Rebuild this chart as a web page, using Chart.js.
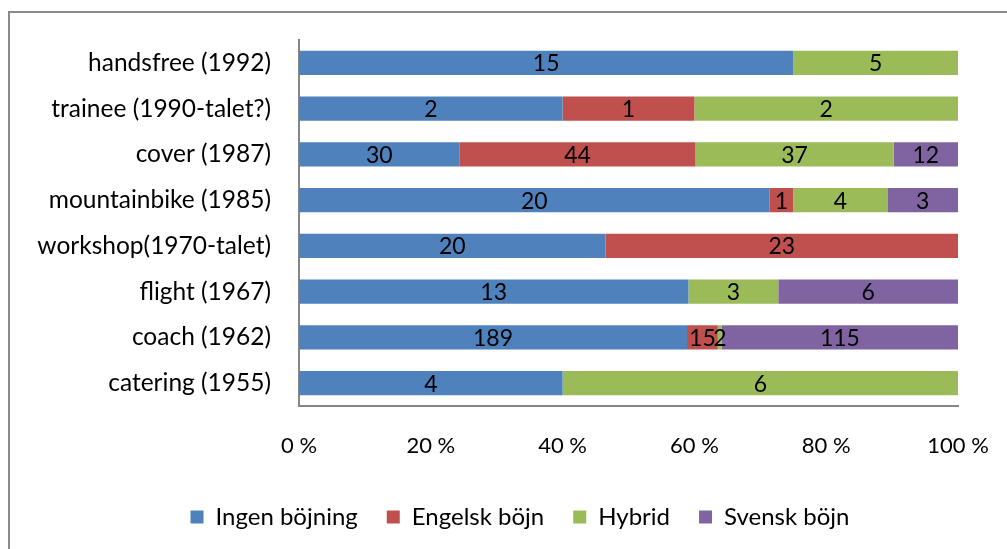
<!DOCTYPE html>
<html lang="sv">
<head>
<meta charset="UTF-8">
<title>Böjning av lånord</title>
<script src="https://cdn.jsdelivr.net/npm/chart.js@4.4.1/dist/chart.umd.min.js"></script>
<style>
  html, body { margin: 0; padding: 0; background: #fff; }
  #wrap { width: 1007px; height: 549px; position: relative; }
</style>
</head>
<body>
<div id="wrap"><canvas id="chart" width="1007" height="549"></canvas></div>
<script>
const words = ['handsfree (1992)', 'trainee (1990-talet?)', 'cover (1987)', 'mountainbike (1985)',
               'workshop(1970-talet)', 'flight (1967)', 'coach (1962)', 'catering (1955)'];
const ingen   = [15, 2, 30, 20, 20, 13, 189, 4];
const engelsk = [0, 1, 44, 1, 23, 0, 15, 0];
const hybrid  = [5, 2, 37, 4, 0, 3, 2, 6];
const svensk  = [0, 0, 12, 3, 0, 6, 115, 0];
const seriesNames = ['Ingen böjning', 'Engelsk böjn', 'Hybrid', 'Svensk böjn'];
const xTicks = [0, 20, 40, 60, 80, 100];

const counts = [ingen, engelsk, hybrid, svensk];
const colors = ['#4F81BD', '#C0504D', '#9BBB59', '#8064A2'];
const totals = words.map((w, i) => counts.reduce((s, arr) => s + arr[i], 0));
const FONT = 'Lato, "Open Sans", sans-serif';

const datasets = counts.map((arr, k) => ({
  label: seriesNames[k],
  data: arr.map((v, i) => v / totals[i] * 100),
  raw: arr,
  backgroundColor: colors[k],
  borderWidth: 0,
  categoryPercentage: 1,
  barPercentage: 0.53
}));

// draws the raw counts in the middle of each segment
const countLabels = {
  id: 'countLabels',
  afterDatasetsDraw(chart) {
    const ctx = chart.ctx;
    ctx.save();
    ctx.font = '23px ' + FONT;
    ctx.fillStyle = '#000';
    ctx.textAlign = 'center';
    ctx.textBaseline = 'middle';
    chart.data.datasets.forEach((ds, k) => {
      chart.getDatasetMeta(k).data.forEach((bar, i) => {
        if (!ds.raw[i]) return;
        ctx.fillText(ds.raw[i], (bar.x + bar.base) / 2, bar.y + 1);
      });
    });
    ctx.restore();
  }
};

const outerFrame = {
  id: 'outerFrame',
  beforeDraw(chart) {
    const ctx = chart.ctx;
    ctx.save();
    ctx.strokeStyle = '#8a8a8a';
    ctx.lineWidth = 2;
    ctx.strokeRect(9, 12, 1200, 700);
    ctx.restore();
  },
  // legend in the original is centred on the whole frame, not the padded box
  afterLayout(chart) {
    chart.legend.left += 41;
    chart.legend.right += 41;
  }
};

new Chart(document.getElementById('chart'), {
  type: 'bar',
  data: { labels: words, datasets: datasets },
  plugins: [countLabels, outerFrame],
  options: {
    indexAxis: 'y',
    responsive: false,
    animation: false,
    layout: { padding: { top: 40, right: 49, bottom: 10, left: 0 } },
    plugins: {
      tooltip: { enabled: false },
      legend: {
        position: 'bottom',
        labels: {
          font: { family: FONT, size: 24 },
          color: '#000',
          boxWidth: 13,
          boxHeight: 13,
          padding: 29
        }
      }
    },
    scales: {
      x: {
        stacked: true,
        min: 0,
        max: 100,
        afterBuildTicks(axis) { axis.ticks = xTicks.map(v => ({ value: v })); },
        afterFit(axis) {
          axis.height = 70;
          axis.paddingLeft = 0;
          axis.paddingRight = 0;
        },
        grid: { display: false, drawTicks: false },
        border: { display: true, color: '#868686', width: 2 },
        ticks: {
          padding: 27,
          color: '#000',
          font: { family: FONT, size: 22 },
          callback: v => v + ' %'
        }
      },
      y: {
        stacked: true,
        afterFit(axis) {
          axis.width = 299;
          axis.paddingTop = 0;
          axis.paddingBottom = 0;
        },
        grid: { display: false, drawTicks: false },
        border: { display: true, color: '#868686', width: 2 },
        ticks: {
          padding: 28,
          color: '#000',
          font: { family: FONT, size: 24.5 }
        }
      }
    }
  }
});
</script>
</body>
</html>
